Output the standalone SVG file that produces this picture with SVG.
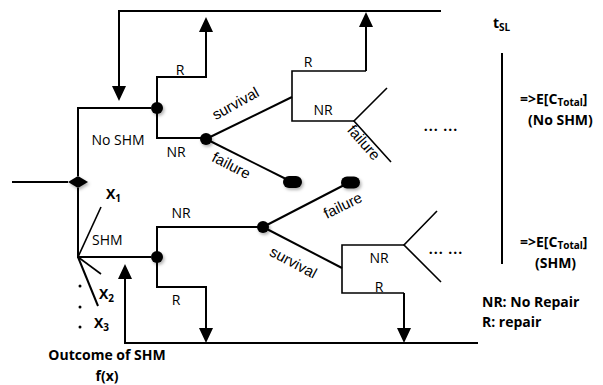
<svg xmlns="http://www.w3.org/2000/svg" width="603" height="385" viewBox="0 0 603 385">
  <style>
    .ln { fill: none; stroke: #000; stroke-width: 2; stroke-linejoin: miter; }
    .thin { stroke-width: 1.6; }
    .mk { fill: #000; filter: url(#shade); }
    .lbl { font-family: "Open Sans", "Liberation Sans", sans-serif; font-size: 14px; fill: #000; }
    .arial { font-family: "Liberation Sans", Arial, sans-serif; font-size: 15px; fill: #000; }
    .bold { font-family: "Open Sans", "Liberation Sans", sans-serif; font-size: 14px; font-weight: bold; fill: #000; }
    .sub { font-size: 10px; }
  </style>
  <defs>
    <marker id="arrow" viewBox="0 0 15 14" markerWidth="15" markerHeight="14" refX="0" refY="7" orient="auto" markerUnits="userSpaceOnUse">
      <path d="M0,0 L15,7 L0,14 z" fill="#000"/>
    </marker>
    <filter id="shade" x="-50%" y="-50%" width="200%" height="200%">
      <feDropShadow dx="1.5" dy="2" stdDeviation="1.5" flood-color="#000" flood-opacity="0.3"/>
    </filter>
  </defs>

  <rect width="603" height="385" fill="#fff"/>

  <!-- connectors -->
  <g id="connectors">
    <path class="ln" d="M12,182 H68"/>
    <path class="ln" d="M78,176 V108 H151"/>
    <path class="ln" d="M441,11 H119 V86" marker-end="url(#arrow)"/>
    <path class="ln" d="M157,108 V77 H206 V32" marker-end="url(#arrow)"/>
    <path class="ln" d="M157,108 V138 H206"/>
    <path class="ln" d="M206,139 L292,97"/>
    <path class="ln" d="M206,139 L292,182"/>
    <path class="ln thin" d="M292,97 V71 H366"/>
    <path class="ln" d="M366,71 V27" marker-end="url(#arrow)"/>
    <path class="ln thin" d="M292,97 V121 H354"/>
    <path class="ln thin" d="M387,88 L354,121 L391,162"/>

    <path class="ln" d="M78,188 V257 H151"/>
    <path class="ln thin" d="M78,257 L101,207"/>
    <path class="ln thin" d="M78,257 L101,274"/>
    <path class="ln" d="M78,257 L98,306"/>
    <path class="ln" d="M157,257 V227 H263"/>
    <path class="ln" d="M157,257 V287 H206 V328" marker-end="url(#arrow)"/>
    <path class="ln" d="M478,343 H125 V279" marker-end="url(#arrow)"/>
    <path class="ln" d="M263,227 L342,268"/>
    <path class="ln" d="M263,227 L350,182"/>
    <path class="ln thin" d="M342,268 V245 H404"/>
    <path class="ln thin" d="M342,268 V293 H404"/>
    <path class="ln" d="M404,293 V328" marker-end="url(#arrow)"/>
    <path class="ln thin" d="M437,211 L404,245 L441,282"/>

    <path class="ln" d="M502,53 V264" stroke-width="2.5"/>
  </g>

  <!-- decision point -->
  <g id="decision">
    <polygon class="mk" points="68,182 78,176 88,182 78,188"/>
  </g>

  <!-- without monitoring -->
  <g id="node-noshm">
    <circle class="mk" cx="157" cy="108" r="6"/>
    <text class="lbl" x="118" y="145" text-anchor="middle" font-size="15">No SHM</text>
    <text class="lbl" x="180" y="75" text-anchor="middle">R</text>
    <text class="lbl" x="176" y="157" text-anchor="middle">NR</text>
  </g>
  <g id="node-noshm-chance">
    <circle class="mk" cx="206" cy="139" r="6"/>
    <text class="arial" transform="translate(238,108) rotate(-29)" text-anchor="middle">survival</text>
    <text class="arial" transform="translate(229,170) rotate(27)" text-anchor="middle">failure</text>
  </g>
  <g id="end-noshm-failure">
    <rect class="mk" x="283" y="176" width="19" height="12" rx="6"/>
  </g>
  <g id="node-noshm-next">
    <text class="lbl" x="308" y="67" text-anchor="middle">R</text>
    <text class="lbl" x="323" y="115" text-anchor="middle">NR</text>
    <text class="arial" transform="translate(360,146) rotate(49)" text-anchor="middle">failure</text>
    <text class="bold" x="441" y="131" text-anchor="middle" letter-spacing="1">... ...</text>
  </g>

  <!-- with monitoring -->
  <g id="node-shm-outcome">
    <text class="lbl" x="92" y="245">SHM</text>
    <text class="bold" x="106" y="199">X<tspan class="sub" dy="3">1</tspan></text>
    <text class="bold" x="99" y="299">X<tspan class="sub" dy="3">2</tspan></text>
    <text class="bold" x="94" y="328">X<tspan class="sub" dy="3">3</tspan></text>
    <circle cx="80" cy="286" r="1.5" fill="#000"/>
    <circle cx="80" cy="307" r="1.5" fill="#000"/>
    <circle cx="80" cy="327" r="1.5" fill="#000"/>
    <text class="bold" x="107" y="360" text-anchor="middle" font-size="15">Outcome of SHM</text>
    <text class="bold" x="107" y="381" text-anchor="middle" font-size="15">f(x)</text>
  </g>
  <g id="node-shm">
    <circle class="mk" cx="157" cy="257" r="6"/>
    <text class="lbl" x="181" y="218" text-anchor="middle">NR</text>
    <text class="lbl" x="176" y="305" text-anchor="middle">R</text>
  </g>
  <g id="node-shm-chance">
    <circle class="mk" cx="263" cy="227" r="6"/>
    <text class="arial" transform="translate(345,210) rotate(-26)" text-anchor="middle">failure</text>
    <text class="arial" transform="translate(291,267) rotate(28)" text-anchor="middle">survival</text>
  </g>
  <g id="end-shm-failure">
    <rect class="mk" x="341" y="176.5" width="19" height="12" rx="6"/>
  </g>
  <g id="node-shm-next">
    <text class="lbl" x="379" y="263" text-anchor="middle">NR</text>
    <text class="lbl" x="379" y="292" text-anchor="middle">R</text>
    <text class="bold" x="446" y="254" text-anchor="middle" letter-spacing="1">... ...</text>
  </g>

  <!-- time horizon and results -->
  <g id="results">
    <text class="bold" x="493" y="28" font-size="15">t<tspan class="sub" dy="3">SL</tspan></text>
    <text class="bold" x="520" y="104">=&gt;E[C<tspan class="sub" dy="2">Total</tspan><tspan dy="-2">]</tspan></text>
    <text class="bold" x="528" y="125">(No SHM)</text>
    <text class="bold" x="520" y="247">=&gt;E[C<tspan class="sub" dy="2">Total</tspan><tspan dy="-2">]</tspan></text>
    <text class="bold" x="535" y="268">(SHM)</text>
    <text class="bold" x="482" y="307">NR: No Repair</text>
    <text class="bold" x="482" y="327">R: repair</text>
  </g>
</svg>
